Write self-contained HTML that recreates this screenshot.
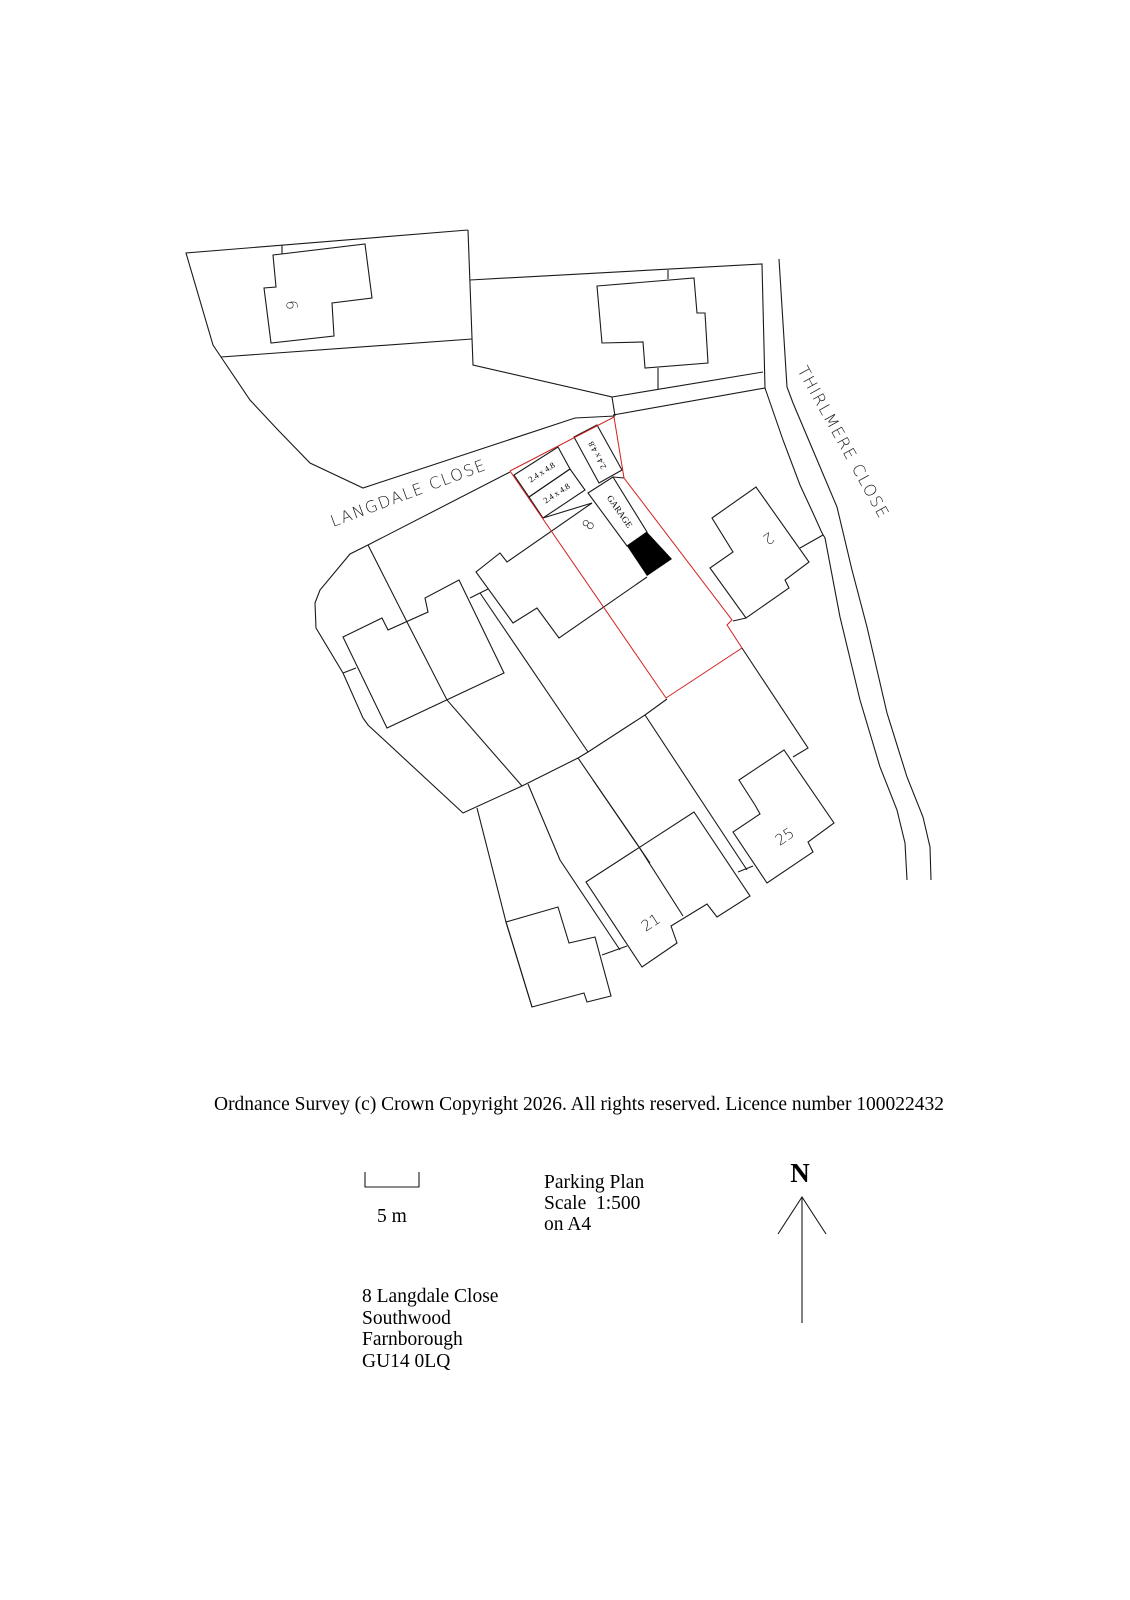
<!DOCTYPE html>
<html><head><meta charset="utf-8"><style>
html,body{margin:0;padding:0;background:#fff;}
svg{display:block;}
.l{fill:none;stroke:#1a1a1a;stroke-width:1.1;stroke-linejoin:miter;}
.r{fill:none;stroke:#d42020;stroke-width:1;}
.s{font-family:"DejaVu Sans","Liberation Sans",sans-serif;font-weight:200;fill:#222;}
.t{font-family:"Liberation Serif",serif;fill:#000;}
</style></head><body>
<svg width="1130" height="1600" viewBox="0 0 1130 1600" xmlns="http://www.w3.org/2000/svg">
<polyline class="l" points="468,230 186,253 213,345 221,357 250,400 278,430 310,463 363,488 575,418 615,416"/>
<line class="l" x1="221" y1="357" x2="472" y2="339"/>
<polyline class="l" points="468,230 473,365 612,397 615,416"/>
<polygon class="l" points="273,255 365,244 372,298 332,303 334,336 271,343 264,288 276,287"/>
<line class="l" x1="282" y1="245" x2="282" y2="254"/>
<text class="s" font-size="15" transform="translate(293,305) rotate(-95)" text-anchor="middle" dominant-baseline="middle">9</text>
<polyline class="l" points="470,280 762,264 765,388 613,415"/>
<line class="l" x1="668" y1="270" x2="668" y2="279"/>
<line class="l" x1="612" y1="397" x2="763" y2="372"/>
<line class="l" x1="658" y1="368" x2="658" y2="389"/>
<polygon class="l" points="597,286 694,278 697,313 705,313 708,363 645,368 643,342 602,343"/>
<polyline class="l" points="765,388 783,440 800,485 813,513 822,533 825,538 840,617 860,700 880,767 897,810 905,843 907,880"/>
<polyline class="l" points="779,259 787,387 793,403 815,455 837,507 852,570 867,627 887,713 907,777 923,817 930,847 931,880"/>
<line class="l" x1="800" y1="548" x2="823" y2="535"/>
<text class="s" font-size="16" letter-spacing="1.5" transform="translate(797,370) rotate(61)">THIRLMERE  CLOSE</text>
<text class="s" font-size="16" letter-spacing="1.5" transform="translate(333,527) rotate(-20.5)">LANGDALE  CLOSE</text>
<polyline class="l" points="510,472 368,545 350,554 320,590 315,603 316,628 343,673 363,718 368,725 463,813 522,786 578,758 588,752 645,715 667,699"/>
<polyline class="l" points="368,545 407,622 447,700 522,786"/>
<line class="l" x1="343" y1="673" x2="356" y2="668"/>
<polygon class="l" points="343,637 382,618 388,630 428,612 425,598 459,580 504,673 387,728"/>
<line class="l" x1="470" y1="598" x2="488" y2="589"/>
<line class="l" x1="480" y1="593" x2="588" y2="752"/>
<polygon class="l" points="514,475 558,447 570,469 529,497"/>
<polygon class="l" points="529,497 570,469 585,490 543,518"/>
<polygon class="l" points="574,437 597,425 622,470 599,483"/>
<text class="t" font-size="8.5" transform="translate(542,473) rotate(-33)" text-anchor="middle" dominant-baseline="middle">2.4 x 4.8</text>
<text class="t" font-size="8.5" transform="translate(557,494) rotate(-33)" text-anchor="middle" dominant-baseline="middle">2.4 x 4.8</text>
<text class="t" font-size="8.5" transform="translate(598,455) rotate(-117)" text-anchor="middle" dominant-baseline="middle">2.4 x 4.8</text>
<line class="l" x1="543" y1="518" x2="592" y2="503"/>
<polyline class="l" points="592,503 507,562 500,553 476,572 513,623 537,608 559,638 647,577"/>
<polygon class="l" points="588,493 613,477 647,532 627,546"/>
<polygon points="627,546 647,532 672,559 647,576" fill="#000"/>
<line class="l" x1="613" y1="477" x2="624" y2="478"/>
<text class="t" font-size="9" transform="translate(619,512) rotate(55)" text-anchor="middle" dominant-baseline="middle">GARAGE</text>
<text class="s" font-size="15" transform="translate(589,525) rotate(-60)" text-anchor="middle" dominant-baseline="middle">8</text>
<polyline class="r" points="510,471 614,417 624,478 732,620 727,625 742,648 666,698 510,471"/>
<polygon class="l" points="712,518 756,487 809,562 785,580 789,588 746,618 710,568 733,552"/>
<line class="l" x1="733" y1="621" x2="746" y2="618"/>
<text class="s" font-size="15" transform="translate(768,538) rotate(145)" text-anchor="middle" dominant-baseline="middle">2</text>
<polyline class="l" points="742,648 808,748 793,757"/>
<polygon class="l" points="739,780 784,750 834,823 808,842 813,852 767,883 733,832 760,814 755,805"/>
<text class="s" font-size="15" transform="translate(785,837) rotate(-34)" text-anchor="middle" dominant-baseline="middle">25</text>
<polyline class="l" points="645,715 747,870"/>
<line class="l" x1="738" y1="872" x2="753" y2="866"/>
<polyline class="l" points="578,758 639,847 683,916"/>
<polygon class="l" points="586,882 694,812 750,896 717,917 707,904 671,926 677,943 642,967"/>
<line class="l" x1="593" y1="780" x2="650" y2="863"/>
<text class="s" font-size="15" transform="translate(651,923) rotate(-33)" text-anchor="middle" dominant-baseline="middle">21</text>
<polyline class="l" points="528,784 560,860 620,950"/>
<line class="l" x1="602" y1="955" x2="627" y2="946"/>
<polyline class="l" points="477,808 506,922 532,1007"/>
<polygon class="l" points="506,922 558,907 569,943 595,937 611,996 587,1002 584,993 532,1007"/>
<text class="t" font-size="19.5" x="214" y="1110" textLength="730" lengthAdjust="spacingAndGlyphs">Ordnance Survey (c) Crown Copyright 2026. All rights reserved. Licence number 100022432</text>
<polyline class="l" points="365,1172 365,1187 419,1187 419,1172"/>
<text class="t" font-size="19.5" x="377" y="1222">5 m</text>
<text class="t" font-size="19.5" x="544" y="1188">Parking Plan</text>
<text class="t" font-size="19.5" x="544" y="1209">Scale&#160; 1:500</text>
<text class="t" font-size="19.5" x="544" y="1230">on A4</text>
<text class="t" font-size="19.5" x="362" y="1302">8 Langdale Close</text>
<text class="t" font-size="19.5" x="362" y="1324">Southwood</text>
<text class="t" font-size="19.5" x="362" y="1345">Farnborough</text>
<text class="t" font-size="19.5" x="362" y="1367">GU14 0LQ</text>
<text class="t" font-size="27" font-weight="bold" x="800" y="1182" text-anchor="middle">N</text>
<polyline class="l" points="778,1234 802,1197 826,1234"/>
<line class="l" x1="802" y1="1197" x2="802" y2="1323"/>
</svg>
</body></html>
